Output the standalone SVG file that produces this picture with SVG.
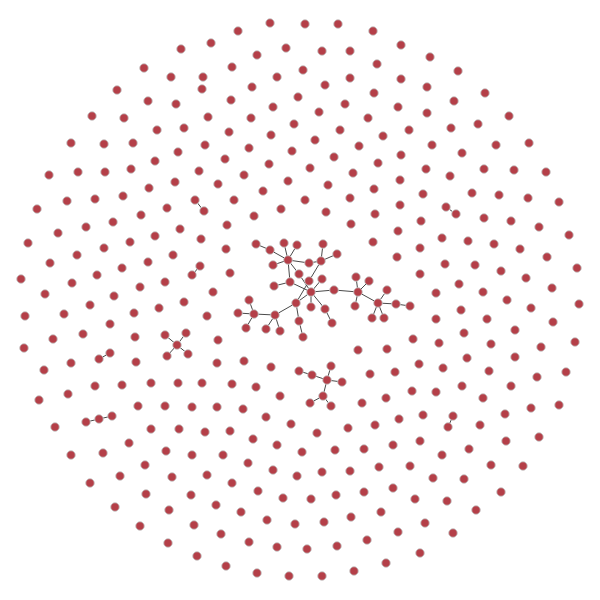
<svg xmlns="http://www.w3.org/2000/svg" width="600" height="600" viewBox="0 0 600 600">
<style>
.links line{stroke:#4a4a4a;stroke-width:1}
.n circle{fill:#b43f48;stroke:#c8c8c8;stroke-width:0.9}
</style>
<rect width="600" height="600" fill="#fff"/>
<g id="connectors" class="links">
<line x1="195" y1="200" x2="204" y2="211"/>
<line x1="192" y1="275" x2="200" y2="266"/>
<line x1="446" y1="207" x2="456" y2="214"/>
<line x1="177" y1="345" x2="165" y2="335"/>
<line x1="177" y1="345" x2="186" y2="333"/>
<line x1="177" y1="345" x2="167" y2="356"/>
<line x1="177" y1="345" x2="188" y2="354"/>
<line x1="99" y1="359" x2="110" y2="353"/>
<line x1="86" y1="422" x2="99" y2="419"/>
<line x1="99" y1="419" x2="112" y2="416"/>
<line x1="448" y1="427" x2="453" y2="416"/>
<line x1="256" y1="244" x2="270" y2="250"/>
<line x1="270" y1="250" x2="288" y2="260"/>
<line x1="284" y1="243" x2="288" y2="260"/>
<line x1="297" y1="245" x2="288" y2="260"/>
<line x1="273" y1="265" x2="288" y2="260"/>
<line x1="288" y1="260" x2="309" y2="263"/>
<line x1="288" y1="260" x2="290" y2="282"/>
<line x1="290" y1="282" x2="274" y2="286"/>
<line x1="309" y1="263" x2="321" y2="261"/>
<line x1="321" y1="261" x2="323" y2="244"/>
<line x1="321" y1="261" x2="337" y2="254"/>
<line x1="288" y1="260" x2="299" y2="274"/>
<line x1="299" y1="274" x2="311" y2="292"/>
<line x1="321" y1="261" x2="309" y2="281"/>
<line x1="309" y1="281" x2="296" y2="303"/>
<line x1="322" y1="279" x2="311" y2="292"/>
<line x1="290" y1="282" x2="311" y2="292"/>
<line x1="311" y1="292" x2="296" y2="303"/>
<line x1="311" y1="292" x2="311" y2="307"/>
<line x1="311" y1="292" x2="325" y2="309"/>
<line x1="311" y1="292" x2="334" y2="290"/>
<line x1="296" y1="303" x2="275" y2="315"/>
<line x1="296" y1="303" x2="299" y2="321"/>
<line x1="299" y1="321" x2="303" y2="337"/>
<line x1="275" y1="315" x2="254" y2="314"/>
<line x1="275" y1="315" x2="266" y2="329"/>
<line x1="275" y1="315" x2="280" y2="331"/>
<line x1="254" y1="314" x2="249" y2="300"/>
<line x1="254" y1="314" x2="238" y2="313"/>
<line x1="254" y1="314" x2="246" y2="328"/>
<line x1="325" y1="309" x2="332" y2="323"/>
<line x1="334" y1="290" x2="358" y2="292"/>
<line x1="358" y1="292" x2="356" y2="277"/>
<line x1="358" y1="292" x2="369" y2="281"/>
<line x1="358" y1="292" x2="355" y2="306"/>
<line x1="358" y1="292" x2="378" y2="303"/>
<line x1="378" y1="303" x2="387" y2="290"/>
<line x1="378" y1="303" x2="396" y2="304"/>
<line x1="378" y1="303" x2="372" y2="318"/>
<line x1="378" y1="303" x2="384" y2="318"/>
<line x1="396" y1="304" x2="410" y2="306"/>
<line x1="299" y1="371" x2="312" y2="375"/>
<line x1="312" y1="375" x2="327" y2="380"/>
<line x1="331" y1="366" x2="327" y2="380"/>
<line x1="327" y1="380" x2="342" y2="382"/>
<line x1="327" y1="380" x2="323" y2="396"/>
<line x1="323" y1="396" x2="310" y2="403"/>
<line x1="323" y1="396" x2="331" y2="406"/>
</g>
<g id="nodes">
<g id="n1" class="n"><circle cx="181" cy="49" r="4.3"/></g>
<g id="n2" class="n"><circle cx="144" cy="68" r="4.3"/></g>
<g id="n3" class="n"><circle cx="171" cy="77" r="4.3"/></g>
<g id="n4" class="n"><circle cx="117" cy="90" r="4.3"/></g>
<g id="n5" class="n"><circle cx="148" cy="101" r="4.3"/></g>
<g id="n6" class="n"><circle cx="176" cy="104" r="4.3"/></g>
<g id="n7" class="n"><circle cx="92" cy="116" r="4.3"/></g>
<g id="n8" class="n"><circle cx="124" cy="118" r="4.3"/></g>
<g id="n9" class="n"><circle cx="157" cy="130" r="4.3"/></g>
<g id="n10" class="n"><circle cx="184" cy="128" r="4.3"/></g>
<g id="n11" class="n"><circle cx="71" cy="143" r="4.3"/></g>
<g id="n12" class="n"><circle cx="104" cy="144" r="4.3"/></g>
<g id="n13" class="n"><circle cx="133" cy="143" r="4.3"/></g>
<g id="n14" class="n"><circle cx="155" cy="161" r="4.3"/></g>
<g id="n15" class="n"><circle cx="178" cy="152" r="4.3"/></g>
<g id="n16" class="n"><circle cx="49" cy="175" r="4.3"/></g>
<g id="n17" class="n"><circle cx="78" cy="172" r="4.3"/></g>
<g id="n18" class="n"><circle cx="105" cy="172" r="4.3"/></g>
<g id="n19" class="n"><circle cx="131" cy="169" r="4.3"/></g>
<g id="n20" class="n"><circle cx="199" cy="171" r="4.3"/></g>
<g id="n21" class="n"><circle cx="149" cy="188" r="4.3"/></g>
<g id="n22" class="n"><circle cx="175" cy="182" r="4.3"/></g>
<g id="n23" class="n"><circle cx="67" cy="201" r="4.3"/></g>
<g id="n24" class="n"><circle cx="95" cy="199" r="4.3"/></g>
<g id="n25" class="n"><circle cx="123" cy="196" r="4.3"/></g>
<g id="n26" class="n"><circle cx="195" cy="200" r="4.3"/></g>
<g id="n27" class="n"><circle cx="238" cy="31" r="4.3"/></g>
<g id="n28" class="n"><circle cx="270" cy="23" r="4.3"/></g>
<g id="n29" class="n"><circle cx="305" cy="24" r="4.3"/></g>
<g id="n30" class="n"><circle cx="338" cy="24" r="4.3"/></g>
<g id="n31" class="n"><circle cx="373" cy="31" r="4.3"/></g>
<g id="n32" class="n"><circle cx="211" cy="43" r="4.3"/></g>
<g id="n33" class="n"><circle cx="257" cy="55" r="4.3"/></g>
<g id="n34" class="n"><circle cx="286" cy="48" r="4.3"/></g>
<g id="n35" class="n"><circle cx="322" cy="51" r="4.3"/></g>
<g id="n36" class="n"><circle cx="350" cy="51" r="4.3"/></g>
<g id="n37" class="n"><circle cx="377" cy="64" r="4.3"/></g>
<g id="n38" class="n"><circle cx="401" cy="45" r="4.3"/></g>
<g id="n39" class="n"><circle cx="232" cy="67" r="4.3"/></g>
<g id="n40" class="n"><circle cx="303" cy="70" r="4.3"/></g>
<g id="n41" class="n"><circle cx="203" cy="77" r="4.3"/></g>
<g id="n42" class="n"><circle cx="277" cy="77" r="4.3"/></g>
<g id="n43" class="n"><circle cx="350" cy="78" r="4.3"/></g>
<g id="n44" class="n"><circle cx="202" cy="89" r="4.3"/></g>
<g id="n45" class="n"><circle cx="252" cy="87" r="4.3"/></g>
<g id="n46" class="n"><circle cx="325" cy="85" r="4.3"/></g>
<g id="n47" class="n"><circle cx="401" cy="79" r="4.3"/></g>
<g id="n48" class="n"><circle cx="231" cy="100" r="4.3"/></g>
<g id="n49" class="n"><circle cx="298" cy="97" r="4.3"/></g>
<g id="n50" class="n"><circle cx="374" cy="93" r="4.3"/></g>
<g id="n51" class="n"><circle cx="273" cy="107" r="4.3"/></g>
<g id="n52" class="n"><circle cx="345" cy="104" r="4.3"/></g>
<g id="n53" class="n"><circle cx="398" cy="107" r="4.3"/></g>
<g id="n54" class="n"><circle cx="208" cy="117" r="4.3"/></g>
<g id="n55" class="n"><circle cx="251" cy="118" r="4.3"/></g>
<g id="n56" class="n"><circle cx="319" cy="112" r="4.3"/></g>
<g id="n57" class="n"><circle cx="368" cy="118" r="4.3"/></g>
<g id="n58" class="n"><circle cx="294" cy="124" r="4.3"/></g>
<g id="n59" class="n"><circle cx="229" cy="132" r="4.3"/></g>
<g id="n60" class="n"><circle cx="271" cy="135" r="4.3"/></g>
<g id="n61" class="n"><circle cx="340" cy="130" r="4.3"/></g>
<g id="n62" class="n"><circle cx="383" cy="136" r="4.3"/></g>
<g id="n63" class="n"><circle cx="205" cy="145" r="4.3"/></g>
<g id="n64" class="n"><circle cx="249" cy="148" r="4.3"/></g>
<g id="n65" class="n"><circle cx="315" cy="140" r="4.3"/></g>
<g id="n66" class="n"><circle cx="359" cy="146" r="4.3"/></g>
<g id="n67" class="n"><circle cx="401" cy="155" r="4.3"/></g>
<g id="n68" class="n"><circle cx="292" cy="151" r="4.3"/></g>
<g id="n69" class="n"><circle cx="225" cy="159" r="4.3"/></g>
<g id="n70" class="n"><circle cx="269" cy="164" r="4.3"/></g>
<g id="n71" class="n"><circle cx="334" cy="157" r="4.3"/></g>
<g id="n72" class="n"><circle cx="378" cy="163" r="4.3"/></g>
<g id="n73" class="n"><circle cx="244" cy="175" r="4.3"/></g>
<g id="n74" class="n"><circle cx="310" cy="168" r="4.3"/></g>
<g id="n75" class="n"><circle cx="353" cy="173" r="4.3"/></g>
<g id="n76" class="n"><circle cx="400" cy="180" r="4.3"/></g>
<g id="n77" class="n"><circle cx="218" cy="184" r="4.3"/></g>
<g id="n78" class="n"><circle cx="288" cy="181" r="4.3"/></g>
<g id="n79" class="n"><circle cx="328" cy="185" r="4.3"/></g>
<g id="n80" class="n"><circle cx="374" cy="189" r="4.3"/></g>
<g id="n81" class="n"><circle cx="263" cy="191" r="4.3"/></g>
<g id="n82" class="n"><circle cx="234" cy="200" r="4.3"/></g>
<g id="n83" class="n"><circle cx="305" cy="200" r="4.3"/></g>
<g id="n84" class="n"><circle cx="350" cy="198" r="4.3"/></g>
<g id="n85" class="n"><circle cx="430" cy="57" r="4.3"/></g>
<g id="n86" class="n"><circle cx="458" cy="71" r="4.3"/></g>
<g id="n87" class="n"><circle cx="427" cy="87" r="4.3"/></g>
<g id="n88" class="n"><circle cx="485" cy="93" r="4.3"/></g>
<g id="n89" class="n"><circle cx="454" cy="101" r="4.3"/></g>
<g id="n90" class="n"><circle cx="427" cy="113" r="4.3"/></g>
<g id="n91" class="n"><circle cx="509" cy="116" r="4.3"/></g>
<g id="n92" class="n"><circle cx="409" cy="130" r="4.3"/></g>
<g id="n93" class="n"><circle cx="451" cy="128" r="4.3"/></g>
<g id="n94" class="n"><circle cx="478" cy="124" r="4.3"/></g>
<g id="n95" class="n"><circle cx="432" cy="145" r="4.3"/></g>
<g id="n96" class="n"><circle cx="462" cy="153" r="4.3"/></g>
<g id="n97" class="n"><circle cx="496" cy="145" r="4.3"/></g>
<g id="n98" class="n"><circle cx="529" cy="143" r="4.3"/></g>
<g id="n99" class="n"><circle cx="426" cy="169" r="4.3"/></g>
<g id="n100" class="n"><circle cx="450" cy="176" r="4.3"/></g>
<g id="n101" class="n"><circle cx="484" cy="169" r="4.3"/></g>
<g id="n102" class="n"><circle cx="514" cy="170" r="4.3"/></g>
<g id="n103" class="n"><circle cx="546" cy="172" r="4.3"/></g>
<g id="n104" class="n"><circle cx="423" cy="194" r="4.3"/></g>
<g id="n105" class="n"><circle cx="472" cy="193" r="4.3"/></g>
<g id="n106" class="n"><circle cx="499" cy="195" r="4.3"/></g>
<g id="n107" class="n"><circle cx="528" cy="198" r="4.3"/></g>
<g id="n108" class="n"><circle cx="559" cy="202" r="4.3"/></g>
<g id="n109" class="n"><circle cx="37" cy="209" r="4.3"/></g>
<g id="n110" class="n"><circle cx="167" cy="208" r="4.3"/></g>
<g id="n111" class="n"><circle cx="141" cy="215" r="4.3"/></g>
<g id="n112" class="n"><circle cx="113" cy="222" r="4.3"/></g>
<g id="n113" class="n"><circle cx="86" cy="227" r="4.3"/></g>
<g id="n114" class="n"><circle cx="58" cy="233" r="4.3"/></g>
<g id="n115" class="n"><circle cx="28" cy="243" r="4.3"/></g>
<g id="n116" class="n"><circle cx="180" cy="229" r="4.3"/></g>
<g id="n117" class="n"><circle cx="155" cy="236" r="4.3"/></g>
<g id="n118" class="n"><circle cx="130" cy="242" r="4.3"/></g>
<g id="n119" class="n"><circle cx="104" cy="248" r="4.3"/></g>
<g id="n120" class="n"><circle cx="77" cy="255" r="4.3"/></g>
<g id="n121" class="n"><circle cx="50" cy="263" r="4.3"/></g>
<g id="n122" class="n"><circle cx="201" cy="239" r="4.3"/></g>
<g id="n123" class="n"><circle cx="173" cy="255" r="4.3"/></g>
<g id="n124" class="n"><circle cx="148" cy="262" r="4.3"/></g>
<g id="n125" class="n"><circle cx="122" cy="268" r="4.3"/></g>
<g id="n126" class="n"><circle cx="97" cy="275" r="4.3"/></g>
<g id="n127" class="n"><circle cx="72" cy="283" r="4.3"/></g>
<g id="n128" class="n"><circle cx="21" cy="279" r="4.3"/></g>
<g id="n129" class="n"><circle cx="200" cy="266" r="4.3"/></g>
<g id="n130" class="n"><circle cx="192" cy="275" r="4.3"/></g>
<g id="n131" class="n"><circle cx="165" cy="282" r="4.3"/></g>
<g id="n132" class="n"><circle cx="140" cy="287" r="4.3"/></g>
<g id="n133" class="n"><circle cx="114" cy="296" r="4.3"/></g>
<g id="n134" class="n"><circle cx="90" cy="305" r="4.3"/></g>
<g id="n135" class="n"><circle cx="45" cy="294" r="4.3"/></g>
<g id="n136" class="n"><circle cx="184" cy="302" r="4.3"/></g>
<g id="n137" class="n"><circle cx="159" cy="308" r="4.3"/></g>
<g id="n138" class="n"><circle cx="134" cy="313" r="4.3"/></g>
<g id="n139" class="n"><circle cx="110" cy="324" r="4.3"/></g>
<g id="n140" class="n"><circle cx="83" cy="334" r="4.3"/></g>
<g id="n141" class="n"><circle cx="64" cy="314" r="4.3"/></g>
<g id="n142" class="n"><circle cx="25" cy="316" r="4.3"/></g>
<g id="n143" class="n"><circle cx="53" cy="339" r="4.3"/></g>
<g id="n144" class="n"><circle cx="24" cy="348" r="4.3"/></g>
<g id="n145" class="n"><circle cx="135" cy="337" r="4.3"/></g>
<g id="n146" class="n"><circle cx="165" cy="335" r="4.3"/></g>
<g id="n147" class="n"><circle cx="186" cy="333" r="4.3"/></g>
<g id="n148" class="n"><circle cx="177" cy="345" r="4.3"/></g>
<g id="n149" class="n"><circle cx="167" cy="356" r="4.3"/></g>
<g id="n150" class="n"><circle cx="188" cy="354" r="4.3"/></g>
<g id="n151" class="n"><circle cx="110" cy="353" r="4.3"/></g>
<g id="n152" class="n"><circle cx="99" cy="359" r="4.3"/></g>
<g id="n153" class="n"><circle cx="136" cy="362" r="4.3"/></g>
<g id="n154" class="n"><circle cx="71" cy="363" r="4.3"/></g>
<g id="n155" class="n"><circle cx="44" cy="370" r="4.3"/></g>
<g id="n156" class="n"><circle cx="151" cy="383" r="4.3"/></g>
<g id="n157" class="n"><circle cx="178" cy="383" r="4.3"/></g>
<g id="n158" class="n"><circle cx="202" cy="383" r="4.3"/></g>
<g id="n159" class="n"><circle cx="122" cy="385" r="4.3"/></g>
<g id="n160" class="n"><circle cx="95" cy="386" r="4.3"/></g>
<g id="n161" class="n"><circle cx="68" cy="394" r="4.3"/></g>
<g id="n162" class="n"><circle cx="39" cy="400" r="4.3"/></g>
<g id="n163" class="n"><circle cx="138" cy="406" r="4.3"/></g>
<g id="n164" class="n"><circle cx="165" cy="406" r="4.3"/></g>
<g id="n165" class="n"><circle cx="192" cy="407" r="4.3"/></g>
<g id="n166" class="n"><circle cx="204" cy="211" r="4.3"/></g>
<g id="n167" class="n"><circle cx="254" cy="216" r="4.3"/></g>
<g id="n168" class="n"><circle cx="281" cy="209" r="4.3"/></g>
<g id="n169" class="n"><circle cx="326" cy="212" r="4.3"/></g>
<g id="n170" class="n"><circle cx="375" cy="214" r="4.3"/></g>
<g id="n171" class="n"><circle cx="227" cy="225" r="4.3"/></g>
<g id="n172" class="n"><circle cx="351" cy="224" r="4.3"/></g>
<g id="n173" class="n"><circle cx="373" cy="242" r="4.3"/></g>
<g id="n174" class="n"><circle cx="226" cy="249" r="4.3"/></g>
<g id="n175" class="n"><circle cx="230" cy="273" r="4.3"/></g>
<g id="n176" class="n"><circle cx="213" cy="292" r="4.3"/></g>
<g id="n177" class="n"><circle cx="207" cy="316" r="4.3"/></g>
<g id="n178" class="n"><circle cx="218" cy="340" r="4.3"/></g>
<g id="n179" class="n"><circle cx="358" cy="350" r="4.3"/></g>
<g id="n180" class="n"><circle cx="387" cy="349" r="4.3"/></g>
<g id="n181" class="n"><circle cx="217" cy="363" r="4.3"/></g>
<g id="n182" class="n"><circle cx="244" cy="361" r="4.3"/></g>
<g id="n183" class="n"><circle cx="271" cy="367" r="4.3"/></g>
<g id="n184" class="n"><circle cx="232" cy="384" r="4.3"/></g>
<g id="n185" class="n"><circle cx="256" cy="387" r="4.3"/></g>
<g id="n186" class="n"><circle cx="280" cy="396" r="4.3"/></g>
<g id="n187" class="n"><circle cx="370" cy="374" r="4.3"/></g>
<g id="n188" class="n"><circle cx="395" cy="372" r="4.3"/></g>
<g id="n189" class="n"><circle cx="386" cy="398" r="4.3"/></g>
<g id="n190" class="n"><circle cx="398" cy="231" r="4.3"/></g>
<g id="n191" class="n"><circle cx="397" cy="257" r="4.3"/></g>
<g id="n192" class="n"><circle cx="400" cy="205" r="4.3"/></g>
<g id="n193" class="n"><circle cx="446" cy="207" r="4.3"/></g>
<g id="n194" class="n"><circle cx="456" cy="214" r="4.3"/></g>
<g id="n195" class="n"><circle cx="421" cy="221" r="4.3"/></g>
<g id="n196" class="n"><circle cx="484" cy="218" r="4.3"/></g>
<g id="n197" class="n"><circle cx="511" cy="221" r="4.3"/></g>
<g id="n198" class="n"><circle cx="539" cy="227" r="4.3"/></g>
<g id="n199" class="n"><circle cx="569" cy="235" r="4.3"/></g>
<g id="n200" class="n"><circle cx="442" cy="238" r="4.3"/></g>
<g id="n201" class="n"><circle cx="468" cy="241" r="4.3"/></g>
<g id="n202" class="n"><circle cx="494" cy="244" r="4.3"/></g>
<g id="n203" class="n"><circle cx="520" cy="249" r="4.3"/></g>
<g id="n204" class="n"><circle cx="547" cy="257" r="4.3"/></g>
<g id="n205" class="n"><circle cx="420" cy="248" r="4.3"/></g>
<g id="n206" class="n"><circle cx="445" cy="264" r="4.3"/></g>
<g id="n207" class="n"><circle cx="475" cy="265" r="4.3"/></g>
<g id="n208" class="n"><circle cx="501" cy="271" r="4.3"/></g>
<g id="n209" class="n"><circle cx="526" cy="278" r="4.3"/></g>
<g id="n210" class="n"><circle cx="577" cy="268" r="4.3"/></g>
<g id="n211" class="n"><circle cx="420" cy="274" r="4.3"/></g>
<g id="n212" class="n"><circle cx="459" cy="284" r="4.3"/></g>
<g id="n213" class="n"><circle cx="436" cy="293" r="4.3"/></g>
<g id="n214" class="n"><circle cx="483" cy="292" r="4.3"/></g>
<g id="n215" class="n"><circle cx="552" cy="288" r="4.3"/></g>
<g id="n216" class="n"><circle cx="507" cy="300" r="4.3"/></g>
<g id="n217" class="n"><circle cx="579" cy="304" r="4.3"/></g>
<g id="n218" class="n"><circle cx="461" cy="310" r="4.3"/></g>
<g id="n219" class="n"><circle cx="531" cy="308" r="4.3"/></g>
<g id="n220" class="n"><circle cx="436" cy="319" r="4.3"/></g>
<g id="n221" class="n"><circle cx="487" cy="319" r="4.3"/></g>
<g id="n222" class="n"><circle cx="553" cy="322" r="4.3"/></g>
<g id="n223" class="n"><circle cx="515" cy="330" r="4.3"/></g>
<g id="n224" class="n"><circle cx="413" cy="339" r="4.3"/></g>
<g id="n225" class="n"><circle cx="439" cy="343" r="4.3"/></g>
<g id="n226" class="n"><circle cx="464" cy="333" r="4.3"/></g>
<g id="n227" class="n"><circle cx="491" cy="344" r="4.3"/></g>
<g id="n228" class="n"><circle cx="541" cy="347" r="4.3"/></g>
<g id="n229" class="n"><circle cx="575" cy="342" r="4.3"/></g>
<g id="n230" class="n"><circle cx="419" cy="364" r="4.3"/></g>
<g id="n231" class="n"><circle cx="443" cy="368" r="4.3"/></g>
<g id="n232" class="n"><circle cx="467" cy="358" r="4.3"/></g>
<g id="n233" class="n"><circle cx="515" cy="357" r="4.3"/></g>
<g id="n234" class="n"><circle cx="489" cy="371" r="4.3"/></g>
<g id="n235" class="n"><circle cx="537" cy="377" r="4.3"/></g>
<g id="n236" class="n"><circle cx="566" cy="372" r="4.3"/></g>
<g id="n237" class="n"><circle cx="412" cy="391" r="4.3"/></g>
<g id="n238" class="n"><circle cx="436" cy="392" r="4.3"/></g>
<g id="n239" class="n"><circle cx="462" cy="386" r="4.3"/></g>
<g id="n240" class="n"><circle cx="511" cy="386" r="4.3"/></g>
<g id="n241" class="n"><circle cx="483" cy="398" r="4.3"/></g>
<g id="n242" class="n"><circle cx="55" cy="427" r="4.3"/></g>
<g id="n243" class="n"><circle cx="86" cy="422" r="4.3"/></g>
<g id="n244" class="n"><circle cx="99" cy="419" r="4.3"/></g>
<g id="n245" class="n"><circle cx="112" cy="416" r="4.3"/></g>
<g id="n246" class="n"><circle cx="151" cy="429" r="4.3"/></g>
<g id="n247" class="n"><circle cx="179" cy="429" r="4.3"/></g>
<g id="n248" class="n"><circle cx="129" cy="443" r="4.3"/></g>
<g id="n249" class="n"><circle cx="71" cy="455" r="4.3"/></g>
<g id="n250" class="n"><circle cx="103" cy="453" r="4.3"/></g>
<g id="n251" class="n"><circle cx="166" cy="451" r="4.3"/></g>
<g id="n252" class="n"><circle cx="192" cy="455" r="4.3"/></g>
<g id="n253" class="n"><circle cx="145" cy="465" r="4.3"/></g>
<g id="n254" class="n"><circle cx="120" cy="476" r="4.3"/></g>
<g id="n255" class="n"><circle cx="90" cy="483" r="4.3"/></g>
<g id="n256" class="n"><circle cx="172" cy="477" r="4.3"/></g>
<g id="n257" class="n"><circle cx="146" cy="494" r="4.3"/></g>
<g id="n258" class="n"><circle cx="191" cy="495" r="4.3"/></g>
<g id="n259" class="n"><circle cx="115" cy="507" r="4.3"/></g>
<g id="n260" class="n"><circle cx="169" cy="510" r="4.3"/></g>
<g id="n261" class="n"><circle cx="140" cy="526" r="4.3"/></g>
<g id="n262" class="n"><circle cx="194" cy="525" r="4.3"/></g>
<g id="n263" class="n"><circle cx="168" cy="543" r="4.3"/></g>
<g id="n264" class="n"><circle cx="197" cy="556" r="4.3"/></g>
<g id="n265" class="n"><circle cx="217" cy="407" r="4.3"/></g>
<g id="n266" class="n"><circle cx="243" cy="409" r="4.3"/></g>
<g id="n267" class="n"><circle cx="266" cy="417" r="4.3"/></g>
<g id="n268" class="n"><circle cx="362" cy="403" r="4.3"/></g>
<g id="n269" class="n"><circle cx="291" cy="424" r="4.3"/></g>
<g id="n270" class="n"><circle cx="205" cy="432" r="4.3"/></g>
<g id="n271" class="n"><circle cx="230" cy="431" r="4.3"/></g>
<g id="n272" class="n"><circle cx="253" cy="439" r="4.3"/></g>
<g id="n273" class="n"><circle cx="277" cy="445" r="4.3"/></g>
<g id="n274" class="n"><circle cx="317" cy="433" r="4.3"/></g>
<g id="n275" class="n"><circle cx="348" cy="428" r="4.3"/></g>
<g id="n276" class="n"><circle cx="375" cy="425" r="4.3"/></g>
<g id="n277" class="n"><circle cx="399" cy="419" r="4.3"/></g>
<g id="n278" class="n"><circle cx="302" cy="452" r="4.3"/></g>
<g id="n279" class="n"><circle cx="335" cy="450" r="4.3"/></g>
<g id="n280" class="n"><circle cx="364" cy="449" r="4.3"/></g>
<g id="n281" class="n"><circle cx="393" cy="445" r="4.3"/></g>
<g id="n282" class="n"><circle cx="223" cy="455" r="4.3"/></g>
<g id="n283" class="n"><circle cx="248" cy="463" r="4.3"/></g>
<g id="n284" class="n"><circle cx="273" cy="470" r="4.3"/></g>
<g id="n285" class="n"><circle cx="297" cy="476" r="4.3"/></g>
<g id="n286" class="n"><circle cx="322" cy="472" r="4.3"/></g>
<g id="n287" class="n"><circle cx="350" cy="471" r="4.3"/></g>
<g id="n288" class="n"><circle cx="379" cy="467" r="4.3"/></g>
<g id="n289" class="n"><circle cx="207" cy="475" r="4.3"/></g>
<g id="n290" class="n"><circle cx="232" cy="483" r="4.3"/></g>
<g id="n291" class="n"><circle cx="258" cy="491" r="4.3"/></g>
<g id="n292" class="n"><circle cx="283" cy="498" r="4.3"/></g>
<g id="n293" class="n"><circle cx="311" cy="499" r="4.3"/></g>
<g id="n294" class="n"><circle cx="336" cy="495" r="4.3"/></g>
<g id="n295" class="n"><circle cx="364" cy="492" r="4.3"/></g>
<g id="n296" class="n"><circle cx="393" cy="488" r="4.3"/></g>
<g id="n297" class="n"><circle cx="216" cy="505" r="4.3"/></g>
<g id="n298" class="n"><circle cx="241" cy="512" r="4.3"/></g>
<g id="n299" class="n"><circle cx="267" cy="520" r="4.3"/></g>
<g id="n300" class="n"><circle cx="295" cy="524" r="4.3"/></g>
<g id="n301" class="n"><circle cx="324" cy="522" r="4.3"/></g>
<g id="n302" class="n"><circle cx="351" cy="517" r="4.3"/></g>
<g id="n303" class="n"><circle cx="381" cy="512" r="4.3"/></g>
<g id="n304" class="n"><circle cx="221" cy="534" r="4.3"/></g>
<g id="n305" class="n"><circle cx="249" cy="542" r="4.3"/></g>
<g id="n306" class="n"><circle cx="277" cy="547" r="4.3"/></g>
<g id="n307" class="n"><circle cx="307" cy="549" r="4.3"/></g>
<g id="n308" class="n"><circle cx="337" cy="546" r="4.3"/></g>
<g id="n309" class="n"><circle cx="367" cy="540" r="4.3"/></g>
<g id="n310" class="n"><circle cx="398" cy="532" r="4.3"/></g>
<g id="n311" class="n"><circle cx="226" cy="566" r="4.3"/></g>
<g id="n312" class="n"><circle cx="257" cy="573" r="4.3"/></g>
<g id="n313" class="n"><circle cx="289" cy="576" r="4.3"/></g>
<g id="n314" class="n"><circle cx="322" cy="576" r="4.3"/></g>
<g id="n315" class="n"><circle cx="354" cy="571" r="4.3"/></g>
<g id="n316" class="n"><circle cx="386" cy="563" r="4.3"/></g>
<g id="n317" class="n"><circle cx="423" cy="415" r="4.3"/></g>
<g id="n318" class="n"><circle cx="453" cy="416" r="4.3"/></g>
<g id="n319" class="n"><circle cx="448" cy="427" r="4.3"/></g>
<g id="n320" class="n"><circle cx="480" cy="425" r="4.3"/></g>
<g id="n321" class="n"><circle cx="505" cy="414" r="4.3"/></g>
<g id="n322" class="n"><circle cx="531" cy="408" r="4.3"/></g>
<g id="n323" class="n"><circle cx="559" cy="405" r="4.3"/></g>
<g id="n324" class="n"><circle cx="420" cy="441" r="4.3"/></g>
<g id="n325" class="n"><circle cx="442" cy="455" r="4.3"/></g>
<g id="n326" class="n"><circle cx="469" cy="449" r="4.3"/></g>
<g id="n327" class="n"><circle cx="506" cy="441" r="4.3"/></g>
<g id="n328" class="n"><circle cx="539" cy="437" r="4.3"/></g>
<g id="n329" class="n"><circle cx="410" cy="466" r="4.3"/></g>
<g id="n330" class="n"><circle cx="433" cy="478" r="4.3"/></g>
<g id="n331" class="n"><circle cx="464" cy="479" r="4.3"/></g>
<g id="n332" class="n"><circle cx="491" cy="465" r="4.3"/></g>
<g id="n333" class="n"><circle cx="523" cy="466" r="4.3"/></g>
<g id="n334" class="n"><circle cx="415" cy="499" r="4.3"/></g>
<g id="n335" class="n"><circle cx="447" cy="501" r="4.3"/></g>
<g id="n336" class="n"><circle cx="476" cy="510" r="4.3"/></g>
<g id="n337" class="n"><circle cx="501" cy="492" r="4.3"/></g>
<g id="n338" class="n"><circle cx="425" cy="523" r="4.3"/></g>
<g id="n339" class="n"><circle cx="453" cy="533" r="4.3"/></g>
<g id="n340" class="n"><circle cx="420" cy="553" r="4.3"/></g>
<g id="cA" class="n"><circle cx="256" cy="244" r="4.3"/></g>
<g id="cB" class="n"><circle cx="270" cy="250" r="4.3"/></g>
<g id="cC" class="n"><circle cx="284" cy="243" r="4.3"/></g>
<g id="cD" class="n"><circle cx="297" cy="245" r="4.3"/></g>
<g id="cE" class="n"><circle cx="288" cy="260" r="4.3"/></g>
<g id="cF" class="n"><circle cx="273" cy="265" r="4.3"/></g>
<g id="cG" class="n"><circle cx="309" cy="263" r="4.3"/></g>
<g id="cH" class="n"><circle cx="321" cy="261" r="4.3"/></g>
<g id="cI" class="n"><circle cx="323" cy="244" r="4.3"/></g>
<g id="cJ" class="n"><circle cx="337" cy="254" r="4.3"/></g>
<g id="cK" class="n"><circle cx="299" cy="274" r="4.3"/></g>
<g id="cL" class="n"><circle cx="290" cy="282" r="4.3"/></g>
<g id="cM" class="n"><circle cx="309" cy="281" r="4.3"/></g>
<g id="cN" class="n"><circle cx="322" cy="279" r="4.3"/></g>
<g id="cO" class="n"><circle cx="274" cy="286" r="4.3"/></g>
<g id="cP" class="n"><circle cx="311" cy="292" r="4.3"/></g>
<g id="cQ" class="n"><circle cx="334" cy="290" r="4.3"/></g>
<g id="cR" class="n"><circle cx="296" cy="303" r="4.3"/></g>
<g id="cS" class="n"><circle cx="311" cy="307" r="4.3"/></g>
<g id="cT" class="n"><circle cx="325" cy="309" r="4.3"/></g>
<g id="cU" class="n"><circle cx="332" cy="323" r="4.3"/></g>
<g id="cV" class="n"><circle cx="299" cy="321" r="4.3"/></g>
<g id="cW" class="n"><circle cx="303" cy="337" r="4.3"/></g>
<g id="cX" class="n"><circle cx="275" cy="315" r="4.3"/></g>
<g id="cY" class="n"><circle cx="254" cy="314" r="4.3"/></g>
<g id="cZ" class="n"><circle cx="249" cy="300" r="4.3"/></g>
<g id="ca" class="n"><circle cx="238" cy="313" r="4.3"/></g>
<g id="cb" class="n"><circle cx="246" cy="328" r="4.3"/></g>
<g id="cc" class="n"><circle cx="266" cy="329" r="4.3"/></g>
<g id="cd" class="n"><circle cx="280" cy="331" r="4.3"/></g>
<g id="ce" class="n"><circle cx="358" cy="292" r="4.3"/></g>
<g id="cf" class="n"><circle cx="356" cy="277" r="4.3"/></g>
<g id="cg" class="n"><circle cx="369" cy="281" r="4.3"/></g>
<g id="ch" class="n"><circle cx="355" cy="306" r="4.3"/></g>
<g id="ci" class="n"><circle cx="378" cy="303" r="4.3"/></g>
<g id="cj" class="n"><circle cx="387" cy="290" r="4.3"/></g>
<g id="ck" class="n"><circle cx="396" cy="304" r="4.3"/></g>
<g id="cl" class="n"><circle cx="410" cy="306" r="4.3"/></g>
<g id="cm" class="n"><circle cx="372" cy="318" r="4.3"/></g>
<g id="cn" class="n"><circle cx="384" cy="318" r="4.3"/></g>
<g id="d1" class="n"><circle cx="299" cy="371" r="4.3"/></g>
<g id="d2" class="n"><circle cx="312" cy="375" r="4.3"/></g>
<g id="d3" class="n"><circle cx="331" cy="366" r="4.3"/></g>
<g id="d4" class="n"><circle cx="327" cy="380" r="4.3"/></g>
<g id="d5" class="n"><circle cx="342" cy="382" r="4.3"/></g>
<g id="d6" class="n"><circle cx="323" cy="396" r="4.3"/></g>
<g id="d7" class="n"><circle cx="310" cy="403" r="4.3"/></g>
<g id="d8" class="n"><circle cx="331" cy="406" r="4.3"/></g>
</g>
</svg>
